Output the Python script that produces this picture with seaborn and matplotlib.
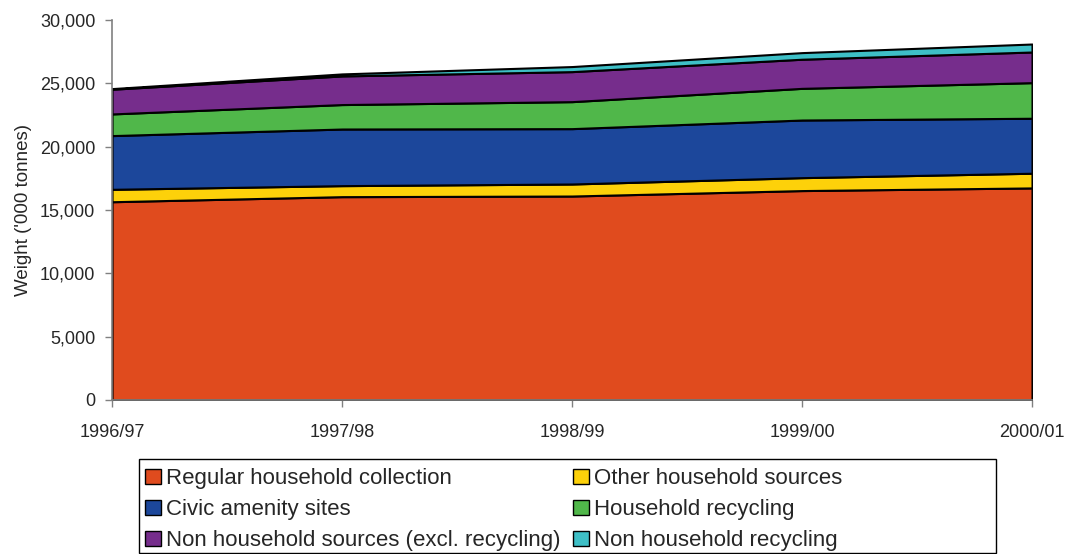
import matplotlib
matplotlib.use("Agg")
import matplotlib.pyplot as plt
from matplotlib.patches import Patch, Rectangle
from matplotlib.ticker import FuncFormatter
import seaborn as sns
import pandas as pd

years = ["1996/97", "1997/98", "1998/99", "1999/00", "2000/01"]
regular_household = [15650, 16050, 16100, 16530, 16740]
other_household = [980, 870, 950, 1020, 1160]
civic_amenity = [4240, 4470, 4370, 4550, 4340]
household_recycling = [1710, 1930, 2130, 2500, 2810]
non_household = [1950, 2260, 2370, 2300, 2420]
non_household_recycling = [50, 160, 400, 520, 630]

labels = ["Regular household collection", "Other household sources",
          "Civic amenity sites", "Household recycling",
          "Non household sources (excl. recycling)", "Non household recycling"]
colors = ["#E04B1E", "#FDD10A", "#1C479B", "#50B74A", "#762D8C", "#3EBFC6"]


def main():
    sns.set_style("white")
    plt.rcParams["font.family"] = ["Liberation Sans", "DejaVu Sans"]

    df = pd.DataFrame({
        labels[0]: regular_household,
        labels[1]: other_household,
        labels[2]: civic_amenity,
        labels[3]: household_recycling,
        labels[4]: non_household,
        labels[5]: non_household_recycling,
    }, index=years)

    fig = plt.figure(figsize=(10.68, 5.54), dpi=100)
    ax = fig.add_axes([0.1049, 0.278, 0.8614, 0.686])
    x = range(len(years))
    ax.stackplot(x, *[df[c].values for c in labels], colors=colors,
                 edgecolor="black", linewidth=1.5)
    ax.set_xlim(0, len(years) - 1)
    ax.set_ylim(0, 30000)
    ax.set_xticks(list(x))
    ax.set_xticklabels(years)
    ax.set_yticks(range(0, 30001, 5000))
    ax.yaxis.set_major_formatter(FuncFormatter(lambda v, p: f"{int(v):,}"))
    ax.set_ylabel("Weight ('000 tonnes)", fontsize=13.5)
    ax.yaxis.set_label_coords(-0.0866, 0.5)

    for s in ["top", "right"]:
        ax.spines[s].set_visible(False)
    for s in ["left", "bottom"]:
        ax.spines[s].set_color("#808080")
        ax.spines[s].set_linewidth(1.2)
    ax.tick_params(axis="both", which="major", labelsize=13, length=5,
                   width=1, direction="out", left=True, bottom=True)
    ax.tick_params(axis="both", color="#808080")
    ax.tick_params(axis="x", pad=12)
    ax.tick_params(axis="y", pad=7)

    # legend box is wider than its entries in the original
    fig.patches.append(Rectangle((0.1301, 0.0018), 0.8024, 0.1697,
                                 transform=fig.transFigure, fill=False,
                                 edgecolor="black", linewidth=1))

    # legend filled row-wise like the original
    order = [0, 2, 4, 1, 3, 5]
    handles = [Patch(facecolor=colors[i], edgecolor="black", linewidth=1,
                     label=labels[i]) for i in order]
    fig.legend(handles=handles, ncol=2, loc="upper left",
               bbox_to_anchor=(0.1358, 0.1544), bbox_transform=fig.transFigure,
               fontsize=16, frameon=False,
               handlelength=0.7, handleheight=0.7, handletextpad=0.25,
               columnspacing=0.57, labelspacing=0.45, borderpad=0,
               borderaxespad=0)

    fig.savefig("out.png", dpi=100)


if __name__ == "__main__":
    main()
